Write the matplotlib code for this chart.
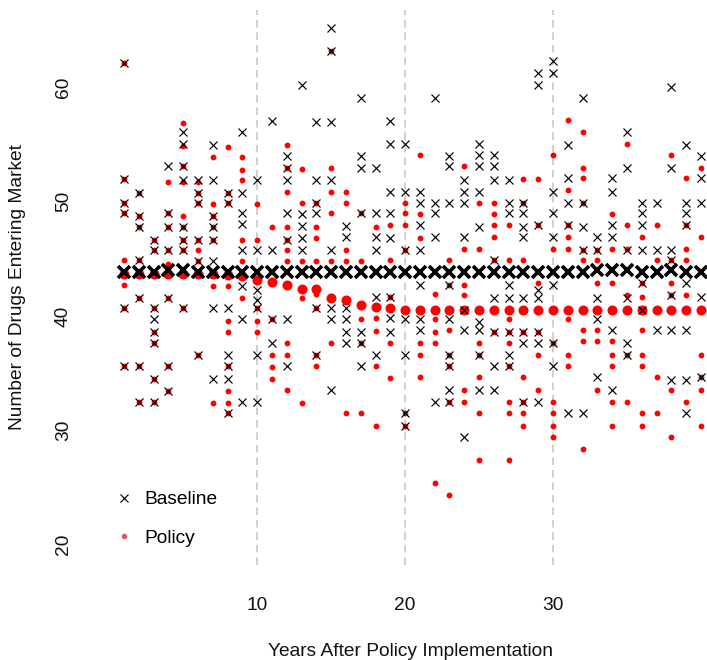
import matplotlib
matplotlib.use("Agg")
import matplotlib.pyplot as plt
from matplotlib.lines import Line2D

plt.rcParams["font.family"] = ["Liberation Sans", "DejaVu Sans"]
plt.rcParams["lines.scale_dashes"] = False

years = list(range(1, 41))

# simulated yearly entries per run, baseline scenario (outlying runs)
baseline = [
    [62.2, 52.0, 49.9, 49.0, 40.7, 35.6],
    [50.8, 48.8, 47.8, 44.9, 41.6, 35.6, 32.5],
    [46.7, 45.8, 40.7, 39.7, 38.6, 37.6, 34.5, 32.5],
    [53.1, 49.0, 47.8, 45.8, 41.6, 35.6, 33.4],
    [56.1, 55.1, 53.1, 51.9, 47.8, 46.7, 45.8, 40.7],
    [51.9, 50.8, 49.9, 46.7, 44.8, 36.6],
    [55.0, 51.9, 48.8, 47.8, 46.7, 44.8, 40.7, 34.5],
    [50.8, 49.9, 40.7, 36.6, 35.6, 34.5, 31.5],
    [56.1, 50.8, 49.0, 48.1, 45.8, 42.6, 39.7, 32.5],
    [51.9, 45.8, 42.3, 41.4, 40.7, 36.6, 32.5],
    [57.1, 45.8, 39.7, 37.6],
    [54.0, 53.0, 51.9, 49.0, 46.7, 39.7, 35.6],
    [60.2, 48.9, 47.9, 46.8, 45.8],
    [57.0, 51.9, 49.9, 49.0, 40.7, 36.6],
    [65.2, 63.2, 57.0, 51.9, 45.8, 40.7, 39.7, 33.5],
    [47.9, 46.9, 40.7, 39.7, 38.6, 37.6],
    [59.1, 54.0, 53.0, 49.0, 38.6, 37.6, 35.6],
    [53.0, 49.0, 46.9, 45.8, 41.7, 36.6],
    [57.1, 55.1, 50.9, 49.0, 46.8, 41.7, 39.8, 38.6],
    [55.1, 50.9, 45.8, 39.7, 36.6, 31.5, 30.4],
    [50.9, 49.9, 48.0, 45.8, 42.7, 39.7, 38.8],
    [59.1, 49.9, 49.0, 46.9, 32.5],
    [54.0, 53.1, 49.9, 42.7, 39.7, 36.6, 35.6, 33.5, 32.5],
    [51.9, 50.9, 49.9, 46.9, 40.5, 38.8, 29.4],
    [55.1, 54.1, 53.1, 50.9, 47.8, 39.5, 38.8, 36.6, 33.5],
    [54.1, 53.1, 51.9, 44.9, 41.6, 38.6, 35.6, 33.5],
    [51.9, 49.9, 49.0, 42.7, 41.6, 38.6, 36.6, 35.6],
    [49.9, 49.0, 47.8, 46.9, 41.6, 38.6, 37.6, 32.5],
    [61.3, 60.2, 48.0, 42.3, 41.6, 38.6, 37.6, 32.5],
    [62.3, 61.3, 50.9, 49.0, 46.9, 42.7, 37.6, 35.6],
    [55.0, 52.1, 49.9, 48.0, 31.5],
    [59.1, 49.9, 47.8, 45.8, 31.5],
    [46.9, 45.8, 41.6, 39.7, 34.7],
    [52.1, 50.9, 48.0, 46.9, 38.8, 33.5],
    [56.1, 53.0, 45.8, 41.6, 37.6, 36.6],
    [49.9, 49.0, 48.0, 45.8, 42.9, 40.5],
    [49.9, 45.8, 38.8],
    [60.1, 53.0, 45.8, 44.9, 41.8, 38.8, 34.4],
    [55.0, 49.9, 49.0, 48.0, 42.9, 38.8, 34.4, 31.5],
    [54.0, 52.1, 49.9, 41.7, 34.7],
]

# same runs under the policy
policy = [
    [62.2, 52.0, 49.9, 49.0, 44.9, 42.7, 40.7, 35.6],
    [50.8, 48.8, 47.8, 44.9, 41.6, 35.6, 32.5],
    [46.7, 45.8, 40.7, 38.6, 37.6, 34.5, 32.5],
    [51.7, 49.0, 47.8, 45.8, 44.6, 41.6, 35.6, 33.4],
    [56.9, 54.9, 53.1, 51.7, 48.8, 47.8, 46.7, 45.8, 40.7],
    [51.7, 50.8, 49.9, 46.7, 45.8, 44.8, 36.6],
    [53.9, 49.8, 48.8, 47.8, 46.7, 42.6, 32.4],
    [54.8, 50.8, 49.9, 42.6, 39.6, 38.6, 35.6, 33.4, 32.4, 31.5],
    [53.9, 52.8, 51.9, 46.7, 44.8, 41.6],
    [49.8, 46.7, 40.7, 39.6, 38.6],
    [47.8, 39.7, 36.6, 35.5, 34.5],
    [55.0, 53.0, 50.9, 47.8, 46.7, 45.8, 44.8, 37.6, 36.6, 33.5],
    [52.9, 49.9, 44.8, 41.6, 32.4],
    [49.9, 47.8, 46.8, 44.8, 41.9, 40.7, 36.6, 35.6],
    [63.2, 53.0, 50.9, 49.0, 44.8, 37.6],
    [50.9, 49.9, 45.8, 44.8, 31.5],
    [49.0, 44.8, 39.7, 37.6, 31.5],
    [47.8, 39.8, 38.7, 35.6, 30.4],
    [48.0, 44.9, 41.7, 37.6, 34.6],
    [49.9, 49.0, 48.0, 45.8, 31.5, 30.4],
    [54.1, 48.9, 46.8, 37.6, 36.6, 34.7],
    [41.9, 39.7, 38.6, 37.6, 25.4],
    [44.9, 42.7, 38.8, 36.6, 35.6, 32.5, 24.3],
    [53.1, 45.9, 42.7, 41.8, 33.5, 32.5],
    [49.9, 45.9, 37.6, 36.6, 34.7, 31.5, 27.4],
    [49.9, 48.9, 48.0, 46.9, 44.9, 38.6],
    [48.0, 44.9, 39.7, 38.6, 37.6, 35.6, 32.5, 31.5, 27.4],
    [52.0, 49.9, 44.9, 38.6, 34.7, 32.5, 31.5, 30.4],
    [52.0, 48.0, 42.9, 38.6, 36.6, 33.5],
    [54.1, 45.9, 37.6, 32.5, 31.5, 30.4, 29.4],
    [57.2, 51.0, 48.0, 46.9, 45.9, 39.7, 36.6, 35.6],
    [56.1, 53.0, 52.1, 49.9, 45.8, 44.9, 38.8, 37.8, 28.4],
    [45.8, 44.9, 42.9, 38.8, 37.8, 33.5],
    [48.9, 45.9, 42.9, 37.8, 36.6, 35.6, 32.5, 30.4],
    [55.1, 48.0, 45.9, 41.8, 36.6, 32.5],
    [46.9, 42.9, 41.7, 38.8, 36.6, 35.6, 31.5, 30.4],
    [48.0, 44.9, 34.7, 31.5],
    [54.1, 44.9, 42.9, 41.8, 33.5, 29.4],
    [52.1, 48.0, 45.9, 44.9, 41.8, 32.5],
    [53.0, 46.9, 36.6, 34.7, 33.5, 30.4],
]

# where the bulk of the runs pile up each year
baseline_core = [43.9, 43.9, 43.9, 44.0, 44.0, 43.9, 43.9, 43.9, 43.9, 43.9,
                 43.9, 43.9, 43.9, 43.9, 43.9, 43.9, 43.9, 43.9, 43.9, 43.9,
                 43.9, 43.9, 43.9, 43.9, 43.9, 43.9, 43.9, 43.9, 43.9, 43.9,
                 43.9, 43.9, 44.0, 44.0, 44.0, 43.9, 43.9, 44.0, 43.9, 43.9]
policy_core = [43.7, 43.7, 43.7, 43.7, 43.7, 43.7, 43.7, 43.6, 43.5, 43.2,
               43.0, 42.7, 42.4, 42.4, 41.6, 41.4, 41.0, 40.8, 40.7, 40.5,
               40.5, 40.5, 40.5, 40.5, 40.5, 40.5, 40.5, 40.5, 40.5, 40.5,
               40.5, 40.5, 40.5, 40.5, 40.5, 40.5, 40.5, 40.5, 40.5, 40.5]

ref_years = [10, 20, 30]
x_ticks = [10, 20, 30]
y_ticks = [20, 30, 40, 50, 60]


def flatten(rows):
    xs = [yr for yr, vals in zip(years, rows) for _ in vals]
    ys = [v for vals in rows for v in vals]
    return xs, ys


W, H = 707, 660
fig = plt.figure(figsize=(W / 100, H / 100), dpi=100)
ax = fig.add_axes([101 / W, 95 / H, 623 / W, 555 / H])
ax.set_xlim(-0.56, 41.56)
ax.set_ylim(18.2, 66.8)

for yr in ref_years:
    ln = ax.axvline(yr, color="#c4c4c4", lw=1.1, zorder=1)
    ln.set_dashes((5.5, 3.5))

red = "#ff0000"
px, py = flatten(policy)
ax.plot(px, py, ls="none", marker="o", ms=4.2, mew=0, color=red, zorder=2)
ax.plot(years, policy_core, ls="none", marker="o", ms=7.2, mew=0, color=red, zorder=2)
bx, by = flatten(baseline)
ax.plot(bx, by, ls="none", marker="x", ms=6.3, mew=0.85, color="black", zorder=3)
ax.plot(years, baseline_core, ls="none", marker="x", ms=8.8, mew=2.6,
        color="black", zorder=3)

for s in ax.spines.values():
    s.set_visible(False)
ax.set_xticks(x_ticks)
ax.set_yticks(y_ticks)
ax.tick_params(length=0, labelsize=13.8, colors="#111111")
ax.tick_params(axis="x", pad=23)
ax.tick_params(axis="y", pad=27)
for lbl in ax.get_yticklabels():
    lbl.set_rotation(90)
    lbl.set_ha("center")
    lbl.set_va("center")

fig.text(411 / W, 1 - 651 / H, "Years After Policy Implementation",
         ha="center", va="center", fontsize=13.8, color="#111111")
fig.text(18 / W, 1 - 287 / H, "Number of Drugs Entering Market",
         ha="center", va="center", rotation=90, fontsize=13.8, color="#111111")

handles = [Line2D([], [], ls="none", marker="x", ms=6.3, mew=0.85, color="black"),
           Line2D([], [], ls="none", marker="o", ms=4.0, mew=0, color="#df536b")]
ax.legend(handles, ["Baseline", "Policy"], loc="upper left",
          bbox_to_anchor=(116 / W, 1 - 491 / H), bbox_transform=fig.transFigure,
          frameon=False, fontsize=13.8, borderpad=0, borderaxespad=0,
          handlelength=0.8, handletextpad=0.7, labelspacing=1.08)

fig.savefig("out.png", dpi=100)
